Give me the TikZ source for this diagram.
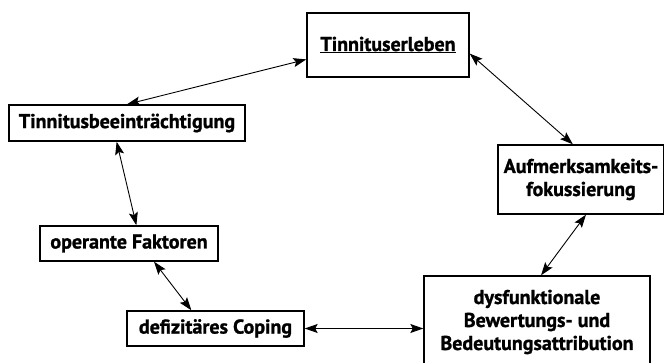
\documentclass[tikz,border=0pt]{standalone}
\usepackage{fontspec}
\setmainfont{PT Sans}[BoldFeatures={FakeBold=1.2}]
\usetikzlibrary{arrows.meta}

\begin{document}
\begin{tikzpicture}[
        x=1pt, y=-1pt,
        >={Stealth[length=13pt, width=9pt, inset=2.5pt]},
        font=\fontsize{20}{23}\selectfont\bfseries,
        kasten/.style={draw, line width=1.4pt, align=center, inner sep=0pt},
        pfeil/.style={<->, line width=0.9pt}
    ]
    \clip (0,0) rectangle (664,363);

    % Kästen
    \node[kasten, minimum width=162pt, minimum height=64pt] (erleben) at (388,45) {\underline{Tinnituserleben}};
    \node[kasten, minimum width=236pt, minimum height=36pt] (beeintr) at (127,123) {Tinnitusbeeinträchtigung};
    \node[kasten, minimum width=166pt, minimum height=69pt] (aufm) at (581,179.5) {Aufmerksamkeits-\\fokussierung};
    \node[kasten, minimum width=178pt, minimum height=35pt] (operant) at (129,243.5) {operante Faktoren};
    \node[kasten, minimum width=177pt, minimum height=35pt] (coping) at (215.5,328.5) {defizitäres Coping};
    \node[kasten, minimum width=226pt, minimum height=92pt] (bewert) at (537,322) {dysfunktionale\\Bewertungs- und\\Bedeutungsattribution};

    % Pfeile
    \draw[pfeil] (erleben.190) -- (beeintr.north);
    \draw[pfeil] (erleben.-6) -- (aufm.103);
    \draw[pfeil] (beeintr.241) -- (operant.68);
    \draw[pfeil] (operant.-36) -- (coping.143);
    \draw[pfeil] (coping.east) -- (coping.east -| bewert.west);
    \draw[pfeil] (aufm.-82) -- (bewert.85);

\end{tikzpicture}
\end{document}
